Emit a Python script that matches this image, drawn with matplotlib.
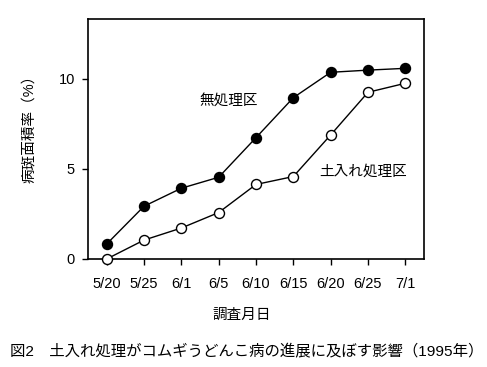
import matplotlib
matplotlib.use("Agg")
import matplotlib.pyplot as plt

plt.rcParams['font.family'] = ['Liberation Sans', 'Noto Sans CJK JP', 'DejaVu Sans']

dates = ["5/20", "5/25", "6/1", "6/5", "6/10", "6/15", "6/20", "6/25", "7/1"]
untreated = [0.83, 2.93, 3.93, 4.54, 6.74, 8.96, 10.37, 10.49, 10.59]
soil_treated = [0.0, 1.05, 1.72, 2.58, 4.14, 4.58, 6.89, 9.26, 9.76]
yticks = [0, 5, 10]

fig = plt.figure(figsize=(4.87, 3.67), dpi=100)
ax = fig.add_axes([88/487, 1-259/367, (424-88)/487, (259-19)/367])

x = list(range(len(dates)))
ax.plot(x, untreated, color='black', lw=1.0, marker='o', ms=7.2,
        mfc='black', mec='black', clip_on=False, zorder=3)
ax.plot(x, soil_treated, color='black', lw=1.0, marker='o', ms=7.2,
        mfc='white', mec='black', mew=1.0, clip_on=False, zorder=3)

ax.set_xlim(-0.5, 8.5)
ax.set_ylim(0, 13.33)
ax.set_xticks(x)
ax.set_xticklabels(dates, fontsize=10.5)
ax.set_yticks(yticks)
ax.set_yticklabels([str(v) for v in yticks], fontsize=10.5)
ax.tick_params(axis='y', direction='out', length=4.5, width=1.0, pad=5)
ax.tick_params(axis='x', direction='out', length=4, width=1.0, pad=9)
for s in ax.spines.values():
    s.set_linewidth(1.2)

ax.text(229/487, 1-102/367, "無処理区", transform=fig.transFigure,
        ha='center', va='center', fontsize=10.5)
ax.text(363/487, 1-172/367, "土入れ処理区", transform=fig.transFigure,
        ha='center', va='center', fontsize=10.5)

fig.text(30/487, 1-125/367, "病斑面積率（%）", rotation=90,
         ha='center', va='center', fontsize=10.5)
fig.text(242/487, 1-315/367, "調査月日", ha='center', va='center', fontsize=10.5)
fig.text(10/487, 1-352/367, "図2　土入れ処理がコムギうどんこ病の進展に及ぼす影響（1995年）",
         ha='left', va='center', fontsize=11.1)

fig.savefig("out.png", dpi=100)
